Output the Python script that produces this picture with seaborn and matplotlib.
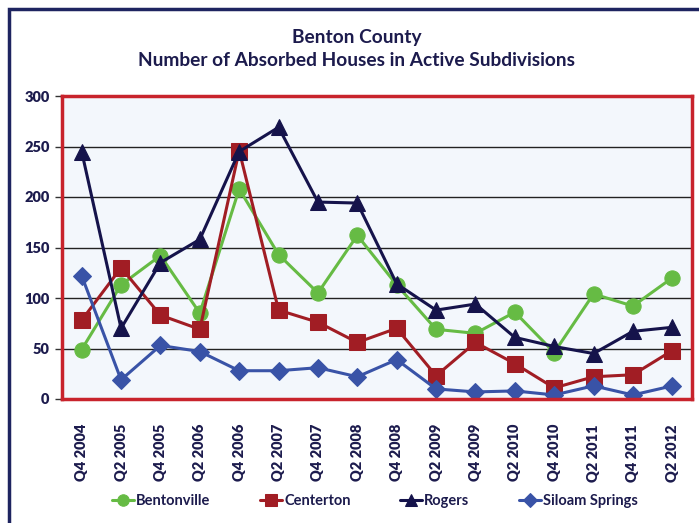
import matplotlib
matplotlib.use("Agg")
import matplotlib.pyplot as plt
import seaborn as sns
import pandas as pd
from matplotlib.patches import Rectangle

categories = ["Q4 2004", "Q2 2005", "Q4 2005", "Q2 2006", "Q4 2006", "Q2 2007",
              "Q4 2007", "Q2 2008", "Q4 2008", "Q2 2009", "Q4 2009", "Q2 2010",
              "Q4 2010", "Q2 2011", "Q4 2011", "Q2 2012"]
bentonville = [49, 113, 142, 85, 208, 143, 105, 162, 113, 69, 65, 86, 46, 104, 92, 120]
centerton = [78, 130, 83, 69, 246, 88, 76, 56, 70, 23, 56, 35, 11, 22, 24, 48]
rogers = [245, 70, 135, 158, 245, 269, 195, 194, 114, 88, 94, 61, 52, 45, 67, 71]
siloam = [122, 19, 53, 47, 28, 28, 31, 22, 39, 10, 7, 8, 4, 13, 4, 13]
series_names = ["Bentonville", "Centerton", "Rogers", "Siloam Springs"]
y_ticks = [0, 50, 100, 150, 200, 250, 300]

colors = {"Bentonville": "#66BB44", "Centerton": "#A11D24",
          "Rogers": "#15134B", "Siloam Springs": "#3953A7"}
markers = {"Bentonville": "o", "Centerton": "s", "Rogers": "^", "Siloam Springs": "D"}
msizes = {"Bentonville": 11, "Centerton": 11, "Rogers": 11, "Siloam Springs": 9}

rows = []
for name, vals in zip(series_names, [bentonville, centerton, rogers, siloam]):
    for i, (c, v) in enumerate(zip(categories, vals)):
        rows.append({"idx": i, "Quarter": c, "Value": v, "Series": name})
df = pd.DataFrame(rows)

sns.set_theme(style="white")
plt.rcParams['font.family'] = ['Lato', 'DejaVu Sans']
text_color = "#1C1B4D"

fig = plt.figure(figsize=(6.99, 5.23), dpi=100)
fig.patch.set_facecolor("white")
ax = fig.add_axes([62/699, 1 - 399/523, 630/699, 303/523])
ax.set_facecolor("#F3F7FC")

for name in series_names:
    sub = df[df["Series"] == name]
    sns.lineplot(data=sub, x="idx", y="Value", ax=ax, color=colors[name],
                 marker=markers[name], markersize=msizes[name],
                 markeredgecolor=colors[name], linewidth=2.2, label=name,
                 legend=False, zorder=3)

ax.set_xlim(-0.5, 15.5)
ax.set_ylim(0, 300)
ax.set_yticks(y_ticks)
ax.set_xticks(range(len(categories)))
ax.set_xticklabels(categories, rotation=90, fontsize=10.5, fontweight="heavy", color=text_color)
ax.set_yticklabels([str(t) for t in y_ticks], fontsize=10.5, fontweight="heavy", color=text_color)
ax.set_xlabel("")
ax.set_ylabel("")
ax.grid(axis="y", color="#222222", linewidth=1.0, zorder=1)
ax.set_axisbelow(True)
ax.tick_params(axis="y", left=True, length=5, width=1, color="#333333", pad=4)
ax.tick_params(axis="x", bottom=False, pad=12)
for sp in ax.spines.values():
    sp.set_color("#C8232C")
    sp.set_linewidth(2.5)
    sp.set_zorder(5)

fig.text(357/699, 1 - 37/523, "Benton County", ha="center", va="center",
         fontsize=13.8, fontweight="bold", color=text_color)
fig.text(357/699, 1 - 60/523, "Number of Absorbed Houses in Active Subdivisions", ha="center",
         va="center", fontsize=13.8, fontweight="bold", color=text_color)

handles, labels = ax.get_legend_handles_labels()
leg = fig.legend(handles, labels, loc="center", bbox_to_anchor=(375/699, 1 - 501/523), ncol=4,
                 frameon=False, fontsize=10.5, handlelength=1.5, handletextpad=0.15,
                 columnspacing=3.4, markerscale=0.75)
for t in leg.get_texts():
    t.set_color(text_color)
    t.set_fontweight("bold")

fig.patches.append(Rectangle((9/699, -0.1), 1.2, 1 - 9/523 + 0.1, transform=fig.transFigure,
                             fill=False, edgecolor="#1E2460", linewidth=2.5, zorder=10))

fig.savefig("out.png", dpi=100)
